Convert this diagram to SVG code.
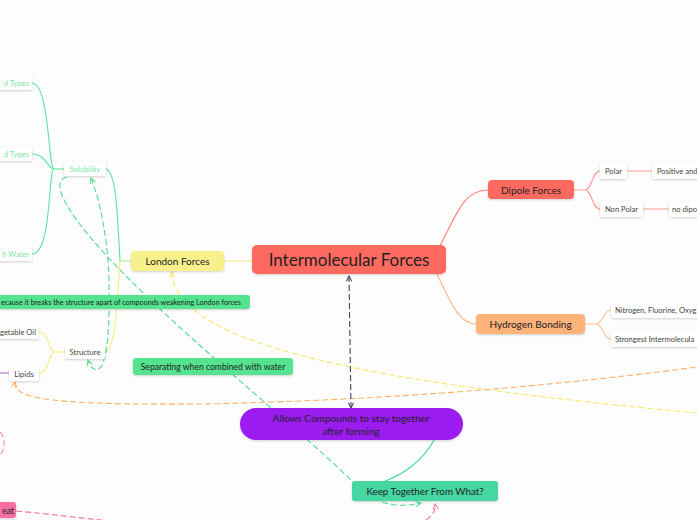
<svg xmlns="http://www.w3.org/2000/svg" width="697" height="520" viewBox="0 0 697 520">
<defs>
<filter id="sh" x="-20%" y="-30%" width="140%" height="170%"><feDropShadow dx="0" dy="1" stdDeviation="1" flood-color="#000" flood-opacity="0.18"/></filter>
<marker id="arG" viewBox="0 0 10 10" refX="9" refY="5" markerWidth="6" markerHeight="6" orient="auto-start-reverse"><path d="M1,1 L9,5 L1,9" fill="none" stroke="#4fdc8c" stroke-width="1.6"/></marker>
<marker id="arY" viewBox="0 0 10 10" refX="9" refY="5" markerWidth="6" markerHeight="6" orient="auto-start-reverse"><path d="M1,1 L9,5 L1,9" fill="none" stroke="#f7e96a" stroke-width="1.6"/></marker>
<marker id="arO" viewBox="0 0 10 10" refX="9" refY="5" markerWidth="6" markerHeight="6" orient="auto-start-reverse"><path d="M1,1 L9,5 L1,9" fill="none" stroke="#ffb060" stroke-width="1.6"/></marker>
<marker id="arN" viewBox="0 0 10 10" refX="9" refY="5" markerWidth="6" markerHeight="6" orient="auto-start-reverse"><path d="M1,1 L9,5 L1,9" fill="none" stroke="#34495e" stroke-width="1.6"/></marker>
<marker id="arP" viewBox="0 0 10 10" refX="9" refY="5" markerWidth="6" markerHeight="6" orient="auto-start-reverse"><path d="M1,1 L9,5 L1,9" fill="none" stroke="#f56fa0" stroke-width="1.6"/></marker>
</defs>
<style>
text{font-family:Lato,"Noto Sans",sans-serif;fill:#222;}
.wb{fill:#fff;filter:url(#sh);}
.s{font-size:7.6px;fill:#444;}
.g{fill:#7de6a6;}
.c{fill:none;stroke-width:1.1;}
.d{fill:none;stroke-width:1.1;stroke-dasharray:6 3;}
</style>
<rect width="697" height="520" fill="#fdfdfd"/>
<g id="connectors">
<path class="c" stroke="#f7ee7f" stroke-width="1.3" d="M224,261 H252"/>
<path class="c" stroke="#ff7f75" d="M440,246 C458,210 465,190 488,190"/>
<path class="c" stroke="#ffb380" d="M437,274 C452,306 460,324 476,324"/>
<path class="c" stroke="#ff9a92" d="M574,190 H585 C592,190 592,171 600,171 M585,190 C592,190 592,209 600,209"/>
<path class="c" stroke="#ff9a92" d="M627,171 H652 M643,209 H669"/>
<path class="c" stroke="#ffbf90" d="M585,324 H596 C603,324 603,310 611,310 M596,324 C603,324 603,339 611,339"/>
<path class="c" stroke="#a8ee9a" stroke-width="2" d="M120,261 H131"/>
<path class="c" stroke="#5ee29a" d="M106,169 C115,172 117,200 120,261"/>
<path class="c" stroke="#f7ee7f" d="M120,261 C117,300 116,350 105,352"/>
<path class="c" stroke="#5ee29a" stroke-width="2" d="M54,169 H64"/>
<path class="c" stroke="#5ee29a" d="M54,169 C48,169 50,84 32,83 M54,169 C48,169 46,154 32,154 M54,169 C48,169 52,254 32,254"/>
<path class="c" stroke="#f7ee7f" stroke-width="2" d="M55,352 H65"/>
<path class="c" stroke="#f7ee7f" d="M55,352 C48,352 50,332 39,332 M55,352 C48,352 50,373 39,373"/>
<path class="c" stroke="#b06cc0" d="M0,373 H9"/>
<path class="c" stroke="#45d6a2" stroke-width="1.4" d="M434,440 C422,462 402,475 385,481"/>
<path class="d" stroke="#4fdc8c" stroke-dasharray="2 2" d="M67,177 C50,180 60,210 130,280 C200,350 300,430 352,481 C370,500 390,510 421,503" marker-end="url(#arG)"/>
<path class="d" stroke="#4fdc8c" d="M91,178 C100,200 108,240 109,280 C110,320 108,360 100,368 C94,373 90,366 88,360" marker-start="url(#arG)" marker-end="url(#arG)"/>
<path class="d" stroke="#f7e96a" d="M172,272 C175,350 400,385 697,413" marker-start="url(#arY)"/>
<path class="d" stroke="#ffb060" d="M15,382 C12,400 60,405 200,404 C400,400 560,385 697,367" marker-start="url(#arO)"/>
<path class="d" stroke="#34495e" stroke-dasharray="7 3" d="M349,276 L351,408" marker-start="url(#arN)" marker-end="url(#arN)"/>
<path class="d" stroke="#f56fa0" d="M16,511 C50,514 80,518 110,521"/>
<path class="d" stroke="#f56fa0" d="M426,520 C433,515 436,510 435,504" marker-end="url(#arP)"/>
<path class="d" stroke="#f78fb6" d="M0,432 C5,436 6,450 0,455"/>
</g>
<g id="central"><rect x="252" y="245" width="194" height="29" rx="5" fill="#ff6b61" filter="url(#sh)"/><text x="349" y="266" font-size="17" text-anchor="middle">Intermolecular Forces</text></g>
<g id="london"><rect x="131" y="251" width="93" height="20" rx="4" fill="#f8f08a" filter="url(#sh)"/><text x="177.5" y="265" font-size="10" text-anchor="middle">London Forces</text></g>
<g id="dipole"><rect x="488" y="180" width="86" height="19" rx="4" fill="#ff6b61" filter="url(#sh)"/><text x="531" y="193.5" font-size="10" text-anchor="middle">Dipole Forces</text></g>
<g id="polar"><rect class="wb" x="600" y="163" width="27" height="16" rx="2"/><text class="s" x="613.5" y="174" text-anchor="middle">Polar</text></g>
<g id="positive"><rect class="wb" x="652" y="163" width="50" height="16" rx="2"/><text class="s" x="657" y="174">Positive and</text></g>
<g id="nonpolar"><rect class="wb" x="600" y="201" width="43" height="16" rx="2"/><text class="s" x="621.5" y="212" text-anchor="middle">Non Polar</text></g>
<g id="nodipole"><rect class="wb" x="669" y="201" width="33" height="16" rx="2"/><text class="s" x="672" y="212">no dipo</text></g>
<g id="hydrogen"><rect x="476" y="314" width="109" height="20" rx="4" fill="#ffb37a" filter="url(#sh)"/><text x="530.5" y="328" font-size="10" text-anchor="middle">Hydrogen Bonding</text></g>
<g id="nitrogen"><rect class="wb" x="611" y="302" width="91" height="16" rx="2"/><text class="s" x="615" y="313">Nitrogen, Fluorine, Oxyg</text></g>
<g id="strongest"><rect class="wb" x="611" y="331" width="91" height="16" rx="2"/><text class="s" x="615" y="342">Strongest Intermolecula</text></g>
<g id="solubility"><rect class="wb" x="64" y="162" width="42" height="14" rx="2"/><text class="s g" x="85" y="172" text-anchor="middle">Solubility</text></g>
<g id="types1"><rect class="wb" x="-4" y="76" width="36" height="14" rx="2"/><text class="s g" x="29" y="86" text-anchor="end">d Types</text></g>
<g id="types2"><rect class="wb" x="-4" y="147" width="36" height="14" rx="2"/><text class="s g" x="29" y="157" text-anchor="end">d Types</text></g>
<g id="water"><rect class="wb" x="-4" y="247" width="36" height="14" rx="2"/><text class="s g" x="29" y="257" text-anchor="end">h Water</text></g>
<g id="because"><rect x="-4" y="295" width="254" height="14" rx="3" fill="#55e38f" filter="url(#sh)"/><text x="1" y="305" font-size="7.2">ecause it breaks the structure apart of compounds weakening London forces</text></g>
<g id="structure"><rect class="wb" x="65" y="345" width="40" height="14" rx="2"/><text class="s" x="85" y="355" text-anchor="middle">Structure</text></g>
<g id="oil"><rect class="wb" x="-4" y="325" width="43" height="14" rx="2"/><text class="s" x="36" y="335" text-anchor="end">getable Oil</text></g>
<g id="lipids"><rect class="wb" x="9" y="366" width="30" height="15" rx="2"/><text class="s" x="24" y="376.5" text-anchor="middle">Lipids</text></g>
<g id="separating"><rect x="133" y="358" width="160" height="17" rx="3" fill="#55e38f" filter="url(#sh)"/><text x="213" y="369.5" font-size="8.6" text-anchor="middle">Separating when combined with water</text></g>
<g id="allows"><rect x="240" y="408" width="223" height="32" rx="16" fill="#9a1ef0" filter="url(#sh)"/><text x="351" y="422" font-size="10" text-anchor="middle">Allows Compounds to stay together</text><text x="351" y="434.5" font-size="10" text-anchor="middle">after forming</text></g>
<g id="keep"><rect x="352" y="481" width="146" height="20" rx="3" fill="#45d6a2" filter="url(#sh)"/><text x="425" y="495" font-size="9.8" text-anchor="middle">Keep Together From What?</text></g>
<g id="heat"><rect x="-4" y="502" width="20" height="16" rx="3" fill="#f56fa0" filter="url(#sh)"/><text x="14" y="513.5" font-size="8.5" text-anchor="end">eat</text></g>
</svg>
